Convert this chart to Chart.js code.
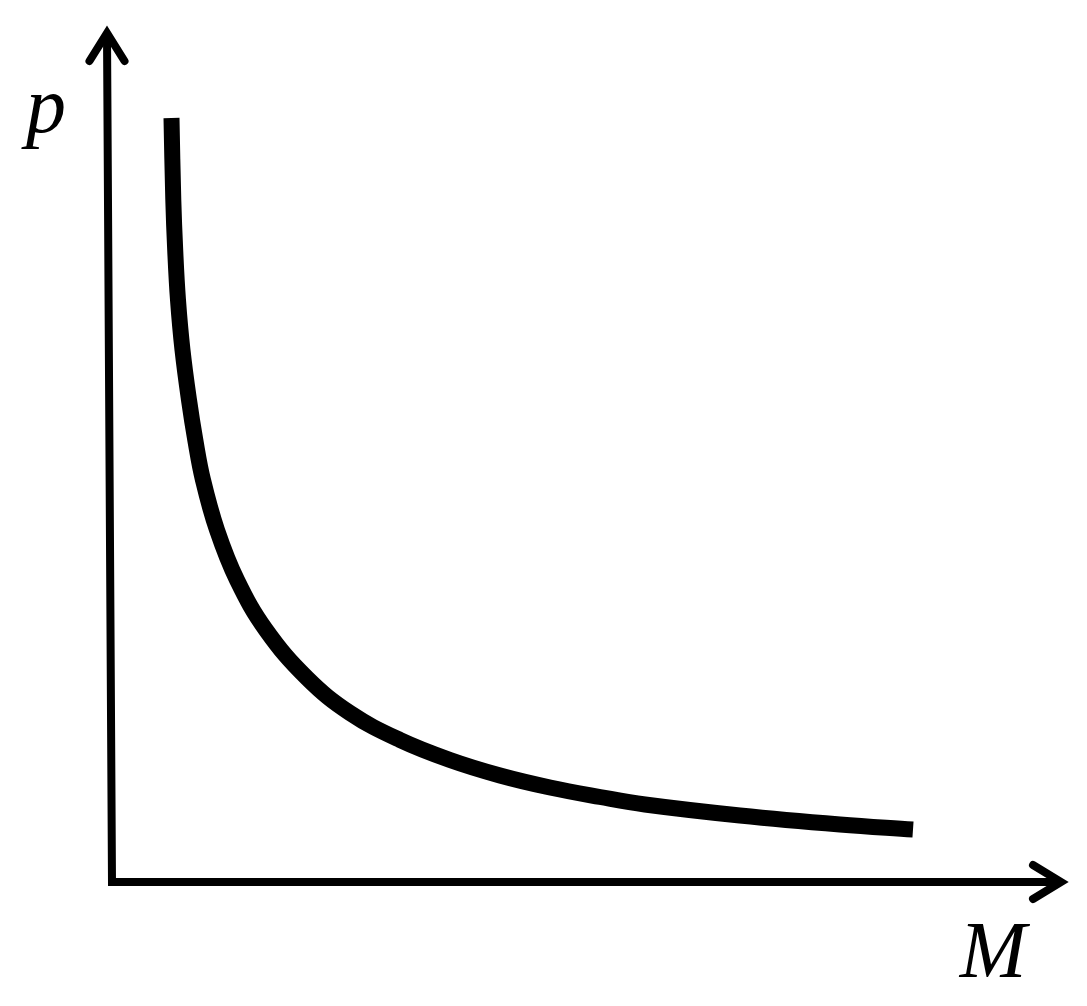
<!DOCTYPE html>
<html>
<head>
<meta charset="utf-8">
<script src="https://cdn.jsdelivr.net/npm/chart.js@4.4.0/dist/chart.umd.min.js"></script>
<style>
  html, body { margin: 0; padding: 0; background: #ffffff; }
  canvas { display: block; }
</style>
</head>
<body>
<canvas id="c" width="1087" height="1006"></canvas>
<script>
// Curve p(M)
const curveM = [0.595, 0.613, 0.632, 0.66, 0.705, 0.77, 0.833, 0.91, 1.05, 1.25, 1.54, 1.95, 2.38, 2.88, 3.38, 3.88, 4.38, 4.88, 5.33, 6.28, 7.28, 8.01];
const curveP = [7.64, 6.82, 6.32, 5.82, 5.32, 4.82, 4.42, 4.02, 3.52, 3.02, 2.52, 2.04, 1.69, 1.42, 1.22, 1.065, 0.945, 0.85, 0.775, 0.665, 0.575, 0.525];

// Axis lines (y axis top -> origin -> x axis end)
const axisX = [-0.05, 0, 9.49];
const axisY = [8.49, 0, 0];
// Arrow heads
const arrowUpX = [-0.225, -0.05, 0.125];
const arrowUpY = [8.21, 8.49, 8.21];
const arrowRightX = [9.21, 9.49, 9.21];
const arrowRightY = [0.17, 0, -0.17];

const axisLabels = { x: 'M', y: 'p' };

const toPts = (xs, ys) => xs.map((x, i) => ({ x: x, y: ys[i] }));

const labelPlugin = {
  id: 'axisLabels',
  afterDraw(chart) {
    const ctx = chart.ctx;
    const sx = chart.scales.x, sy = chart.scales.y;
    ctx.save();
    ctx.fillStyle = '#000';
    ctx.font = 'italic 80px "Liberation Serif", "DejaVu Serif", serif';
    ctx.textBaseline = 'alphabetic';
    ctx.textAlign = 'center';
    ctx.fillText(axisLabels.y, sx.getPixelForValue(-0.66), sy.getPixelForValue(7.50));
    ctx.fillText(axisLabels.x, sx.getPixelForValue(8.81), sy.getPixelForValue(-0.95));
    ctx.restore();
  }
};

new Chart(document.getElementById('c'), {
  type: 'line',
  data: {
    datasets: [
      {
        data: toPts(axisX, axisY),
        borderColor: '#000', borderWidth: 8, pointRadius: 0,
        borderJoinStyle: 'miter', borderCapStyle: 'butt', tension: 0, clip: false
      },
      {
        data: toPts(arrowUpX, arrowUpY),
        borderColor: '#000', borderWidth: 8, pointRadius: 0,
        borderJoinStyle: 'miter', borderCapStyle: 'round', tension: 0, clip: false
      },
      {
        data: toPts(arrowRightX, arrowRightY),
        borderColor: '#000', borderWidth: 8, pointRadius: 0,
        borderJoinStyle: 'miter', borderCapStyle: 'round', tension: 0, clip: false
      },
      {
        data: toPts(curveM, curveP),
        borderColor: '#000', borderWidth: 16, pointRadius: 0,
        borderCapStyle: 'butt', borderJoinStyle: 'round', tension: 0.4, clip: false
      }
    ]
  },
  options: {
    responsive: false,
    animation: false,
    events: [],
    layout: { padding: { left: 100, right: 3, top: 22, bottom: 104 } },
    plugins: { legend: { display: false }, tooltip: { enabled: false }, title: { display: false } },
    scales: {
      x: { type: 'linear', min: -0.12, max: 9.72, display: false },
      y: { type: 'linear', min: -0.2, max: 8.6, display: false }
    }
  },
  plugins: [labelPlugin]
});
</script>
</body>
</html>
